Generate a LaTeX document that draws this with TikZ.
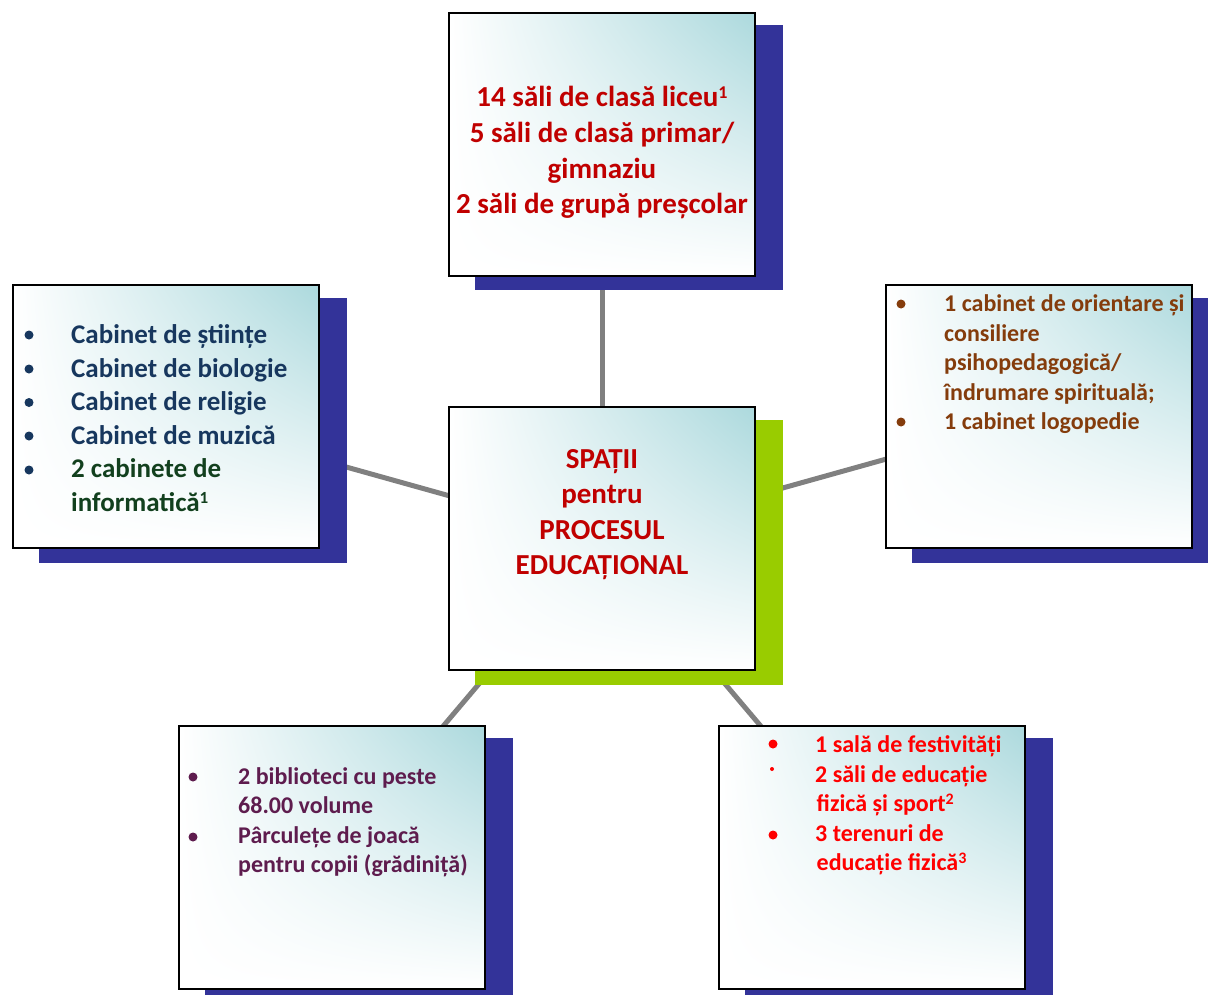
\documentclass[tikz,border=0pt]{standalone}
\usepackage{fontspec}
\setmainfont{Carlito}
\usetikzlibrary{shadings}
\pgfdeclarelayer{lines}
\pgfdeclarelayer{shadows}
\pgfsetlayers{lines,shadows,main}
\definecolor{tealc}{RGB}{172,217,221}
\definecolor{shblue}{RGB}{51,51,153}
\definecolor{shgreen}{RGB}{153,204,0}
\definecolor{dred}{RGB}{192,0,0}
\definecolor{navyc}{RGB}{23,55,94}
\definecolor{dgreen}{RGB}{18,64,30}
\definecolor{brownc}{RGB}{132,60,12}
\definecolor{purplec}{RGB}{94,28,78}
\definecolor{redc}{RGB}{255,0,0}
\definecolor{conngray}{RGB}{128,128,128}
\newcommand{\mysup}[3]{\raisebox{#2pt}{\fontsize{#1}{#1}\selectfont #3}}
\tikzset{
  box/.style={draw=black, line width=2pt, rectangle, inner sep=0pt,
    minimum width=306pt, minimum height=263pt,
    shade, upper right=tealc, upper left=white, lower left=white, lower right=white},
  conn/.style={draw=conngray, line width=5pt},
  bigtxt/.style={inner sep=0pt, font=\fontsize{29}{36}\selectfont\bfseries, anchor=base},
  midtxt/.style={inner sep=0pt, font=\fontsize{27}{33}\selectfont\bfseries, anchor=base west},
  smtxt/.style={inner sep=0pt, font=\fontsize{24}{29}\selectfont\bfseries, anchor=base west},
  bul/.style={circle, inner sep=0pt, minimum size=9pt},
  smallbul/.style={circle, inner sep=0pt, minimum size=4pt}
}
\begin{document}
\begin{tikzpicture}[x=1pt,y=-1pt]
\useasboundingbox (0,0) rectangle (1208,995);
\clip (0,0) rectangle (1208,995);
% boxes
\node[box] (top) at (602,144.5) {};
\node[box] (left) at (165.5,416.5) {};
\node[box] (right) at (1038.5,416.5) {};
\node[box] (center) at (602,538.5) {};
\node[box] (bl) at (332,857.5) {};
\node[box] (br) at (872,857.5) {};
% shadows
\begin{pgfonlayer}{shadows}
\fill[shblue] ([shift={(27,13)}]top.south west) rectangle ([shift={(27,13)}]top.north east);
\fill[shblue] ([shift={(27,14)}]left.south west) rectangle ([shift={(27,14)}]left.north east);
\fill[shblue] ([shift={(27,14)}]right.south west) rectangle ([shift={(27,14)}]right.north east);
\fill[shgreen] ([shift={(27,14)}]center.south west) rectangle ([shift={(27,14)}]center.north east);
\fill[shblue] ([shift={(27,13)}]bl.south west) rectangle ([shift={(27,13)}]bl.north east);
\fill[shblue] ([shift={(27,13)}]br.south west) rectangle ([shift={(27,13)}]br.north east);
\end{pgfonlayer}
% connectors
\begin{pgfonlayer}{lines}
\draw[conn] (center.center) -- (top.center);
\draw[conn] (center.center) -- (left.center);
\draw[conn] (center.center) -- (right.center);
\draw[conn] (center.center) -- (bl.center);
\draw[conn] (center.center) -- (br.center);
\end{pgfonlayer}
% top text
\node[bigtxt, text=dred] (t1) at (602,107) {14 săli de clasă liceu\mysup{18}{8.5}{1}};
\node[bigtxt, text=dred] (t2) at (602,143) {5 săli de clasă primar/};
\node[bigtxt, text=dred] (t3) at (602,178.5) {gimnaziu};
\node[bigtxt, text=dred] (t4) at (602,214) {2 săli de grupă preșcolar};
% center text
\node[bigtxt, text=dred] (c1) at (602,468) {SPAȚII};
\node[bigtxt, text=dred] (c2) at (602,503.5) {pentru};
\node[bigtxt, text=dred] (c3) at (602,539) {PROCESUL};
\node[bigtxt, text=dred] (c4) at (602,574.5) {EDUCAȚIONAL};
% left text
\node[bul, fill=navyc] (lb1) at (29,335) {};
\node[bul, fill=navyc] (lb2) at (29,369) {};
\node[bul, fill=navyc] (lb3) at (29,402.5) {};
\node[bul, fill=navyc] (lb4) at (29,436) {};
\node[bul, fill=navyc] (lb5) at (29,470) {};
\node[midtxt, text=navyc] (l1) at (71,343) {Cabinet de științe};
\node[midtxt, text=navyc] (l2) at (71,377) {Cabinet de biologie};
\node[midtxt, text=navyc] (l3) at (71,410.5) {Cabinet de religie};
\node[midtxt, text=navyc] (l4) at (71,444) {Cabinet de muzică};
\node[midtxt, text=dgreen] (l5) at (71,477.5) {2 cabinete de};
\node[midtxt, text=dgreen] (l6) at (71,511) {informatică\mysup{17}{8}{1}};
% right text
\node[bul, fill=brownc] (rb1) at (901,304) {};
\node[bul, fill=brownc] (rb2) at (901,422) {};
\node[smtxt, text=brownc] (r1) at (944,312) {1 cabinet de orientare și};
\node[smtxt, text=brownc] (r2) at (944,341) {consiliere};
\node[smtxt, text=brownc] (r3) at (944,370.5) {psihopedagogică/};
\node[smtxt, text=brownc] (r4) at (944,400) {îndrumare spirituală;};
\node[smtxt, text=brownc] (r5) at (944,429) {1 cabinet logopedie};
% bottom-left text
\node[bul, fill=purplec] (bb1) at (193,777) {};
\node[bul, fill=purplec] (bb2) at (193,837) {};
\node[smtxt, text=purplec] (b1) at (238,784) {2 biblioteci cu peste};
\node[smtxt, text=purplec] (b2) at (238,813.5) {68.00 volume};
\node[smtxt, text=purplec] (b3) at (238,843) {Pârculețe de joacă};
\node[smtxt, text=purplec] (b4) at (238,872.5) {pentru copii (grădiniță)};
% bottom-right text
\node[bul, fill=redc] (sb1) at (773,744) {};
\node[smallbul, fill=redc] (sb2) at (772,769) {};
\node[bul, fill=redc] (sb3) at (773,835) {};
\node[smtxt, text=redc] (s1) at (815,752) {1 sală de festivități};
\node[smtxt, text=redc] (s2) at (815,782) {2 săli de educație};
\node[smtxt, text=redc] (s3) at (816.5,811.5) {fizică și sport\mysup{16}{7}{2}};
\node[smtxt, text=redc] (s4) at (815,841) {3 terenuri de};
\node[smtxt, text=redc] (s5) at (816.5,870.5) {educație fizică\mysup{16}{7}{3}};
\end{tikzpicture}
\end{document}
